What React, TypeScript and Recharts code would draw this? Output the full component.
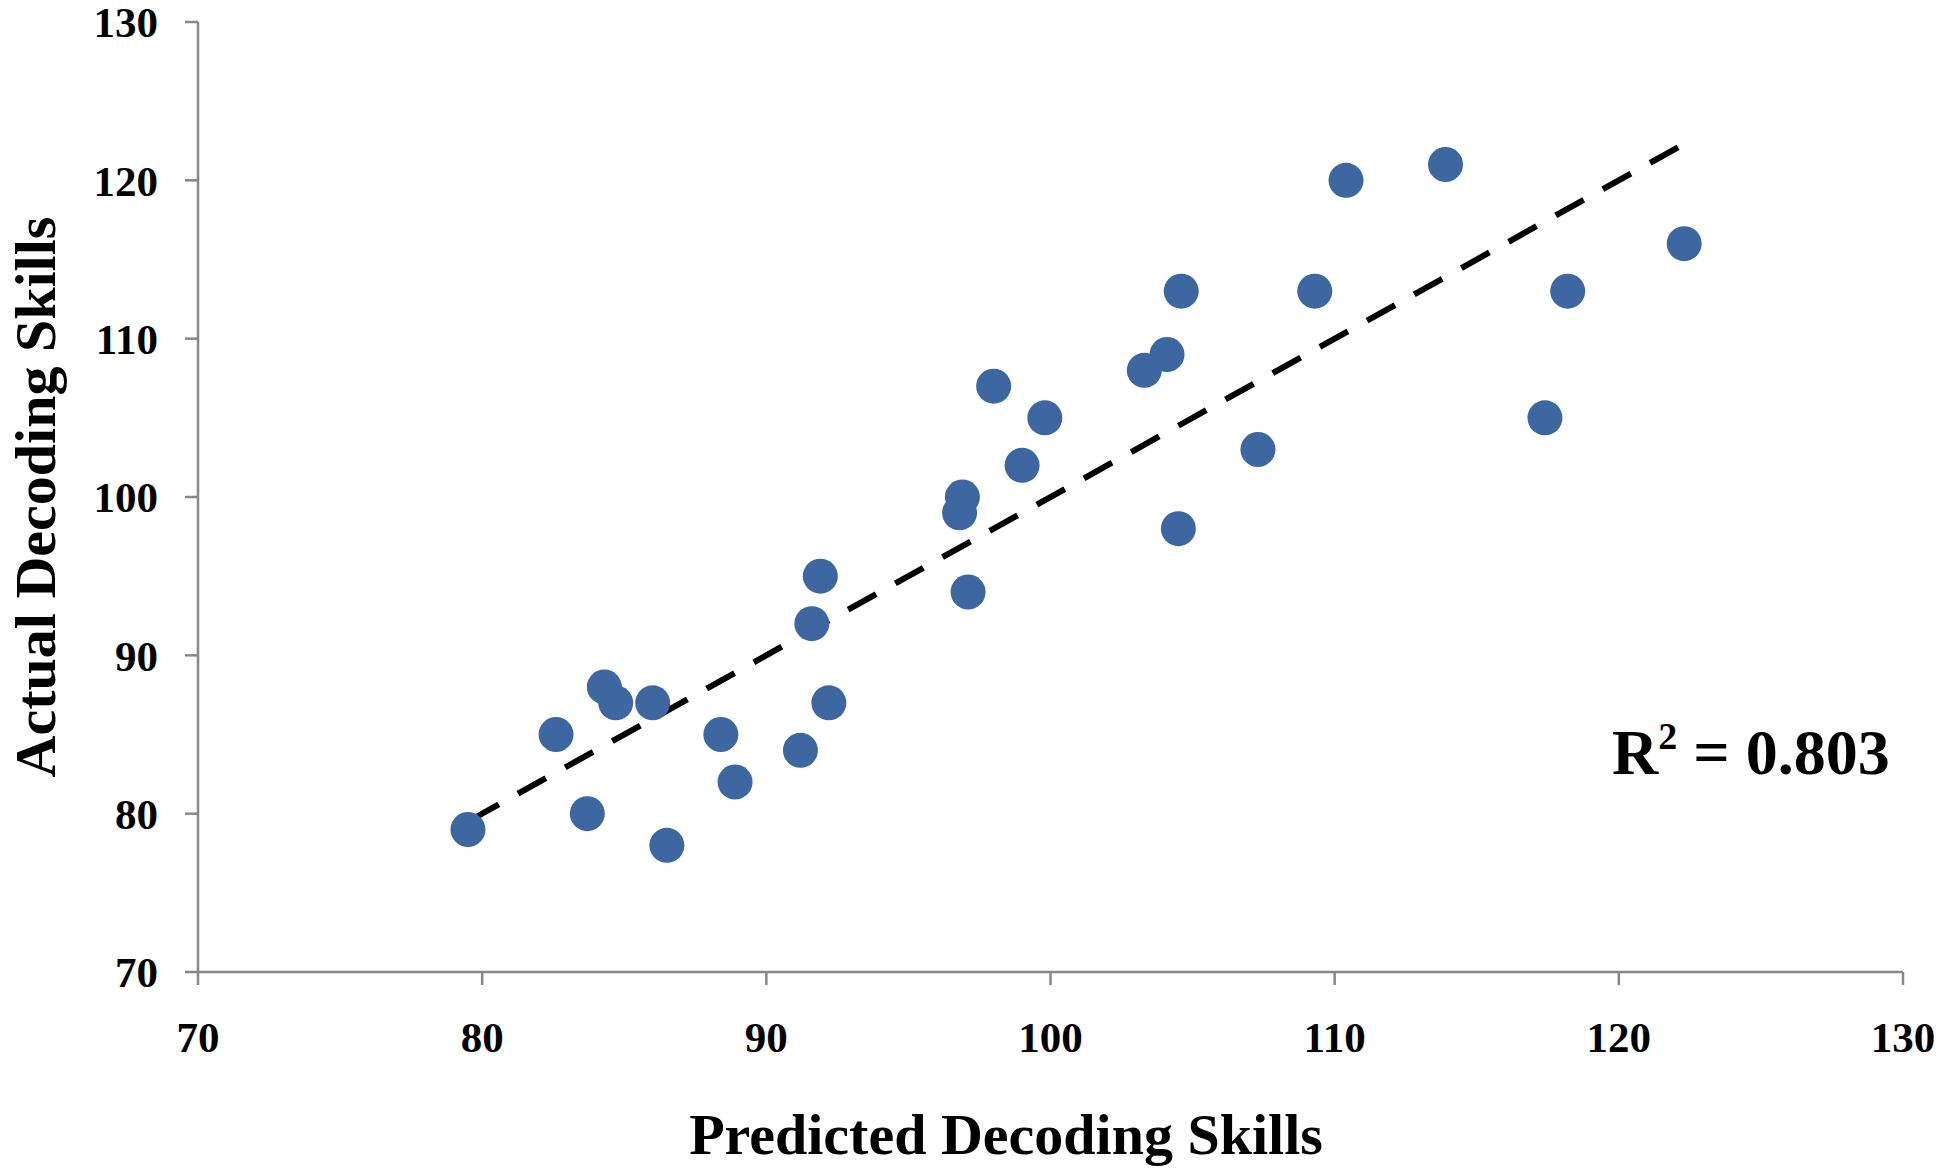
import React from 'react';
import {
  ScatterChart,
  Scatter,
  XAxis,
  YAxis,
  ReferenceLine,
} from 'recharts';

// page has an 8px default margin, drop it so the chart sits at 0,0
document.body.style.margin = '0';

const predicted = [
  79.5, 82.6, 83.7, 84.3, 84.7, 86.0, 86.5, 88.4, 88.9, 91.2,
  91.6, 91.9, 92.2, 96.9, 96.8, 97.1, 98.0, 99.0, 99.8, 103.3,
  104.1, 104.6, 104.5, 107.3, 109.3, 110.4, 113.9, 117.4, 118.2, 122.3,
];
const actual = [
  79, 85, 80, 88, 87, 87, 78, 85, 82, 84,
  92, 95, 87, 100, 99, 94, 107, 102, 105, 108,
  109, 113, 98, 103, 113, 120, 121, 105, 113, 116,
];
const axisTicks = [70, 80, 90, 100, 110, 120, 130];
const trendStart = { x: 79.6, y: 79.6 };
const trendEnd = { x: 122.7, y: 122.7 };
const rSquared = '0.803';

const points = predicted.map((p, i) => ({ x: p, y: actual[i] }));

const FONT = '"Liberation Serif", "Times New Roman", serif';
const AXIS_GREY = '#878787';
const DOT_BLUE = '#3C67A0';

const Dot = (props: any) => {
  const { cx, cy } = props;
  if (cx == null || cy == null) return null;
  return <circle cx={cx} cy={cy} r={17.5} fill={DOT_BLUE} />;
};

const tickStyle = { fontFamily: FONT, fontWeight: 700, fontSize: 43, fill: '#000' };

export default function App() {
  return (
    <div style={{ position: 'relative', width: 1950, height: 1175, background: '#fff' }}>
      <ScatterChart
        width={1950}
        height={1175}
        margin={{ top: 22, right: 47, bottom: 123, left: 78 }}
      >
        <XAxis
          type="number"
          dataKey="x"
          domain={[70, 130]}
          ticks={axisTicks}
          interval={0}
          height={80}
          tickSize={13}
          tickMargin={36}
          stroke={AXIS_GREY}
          strokeWidth={2.5}
          tick={tickStyle}
          allowDataOverflow
        />
        <YAxis
          type="number"
          dataKey="y"
          domain={[70, 130]}
          ticks={axisTicks}
          interval={0}
          width={120}
          tickSize={13}
          tickMargin={27}
          stroke={AXIS_GREY}
          strokeWidth={2.5}
          tick={tickStyle}
          allowDataOverflow
        />
        <Scatter data={points} shape={Dot} isAnimationActive={false} />
        <ReferenceLine
          segment={[trendStart, trendEnd]}
          stroke="#000"
          strokeWidth={6}
          strokeDasharray="32 22"
          ifOverflow="visible"
        />
      </ScatterChart>

      <svg
        width={1950}
        height={1175}
        style={{ position: 'absolute', left: 0, top: 0, pointerEvents: 'none' }}
      >
        <text
          x={1006}
          y={1154}
          textAnchor="middle"
          fontFamily={FONT}
          fontWeight={700}
          fontSize={58}
          fill="#000"
        >
          Predicted Decoding Skills
        </text>
        <text
          transform="translate(55, 497) rotate(-90)"
          textAnchor="middle"
          fontFamily={FONT}
          fontWeight={700}
          fontSize={58}
          fill="#000"
        >
          Actual Decoding Skills
        </text>
        <text x={1612} y={774} fontFamily={FONT} fontWeight={700} fontSize={64} fill="#000">
          <tspan>R</tspan>
          <tspan dy={-25} fontSize={38}>2</tspan>
          <tspan dy={25}>{` = ${rSquared}`}</tspan>
        </text>
      </svg>
    </div>
  );
}
